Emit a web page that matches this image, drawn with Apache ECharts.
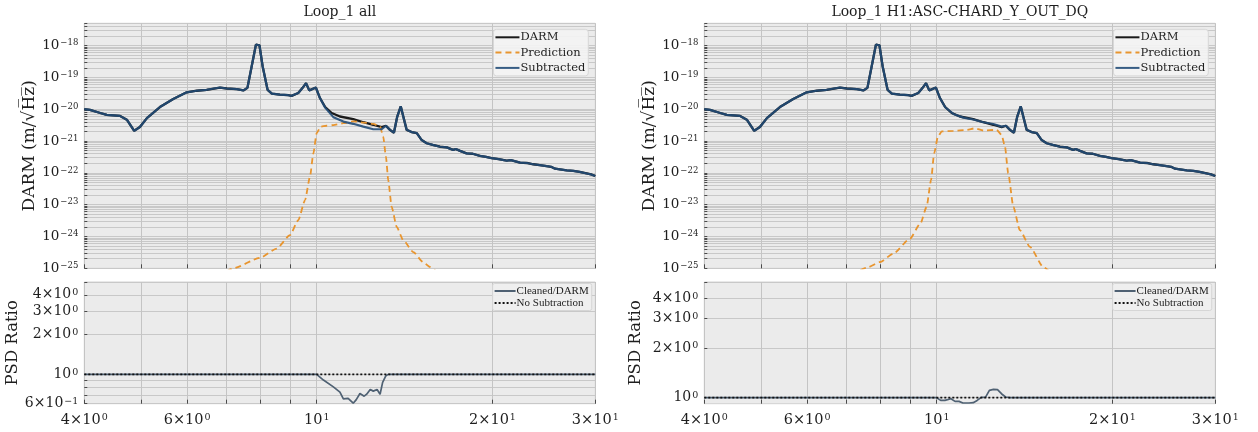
<!DOCTYPE html>
<html>
<head>
<meta charset="utf-8">
<script src="https://cdn.jsdelivr.net/npm/echarts@6/dist/echarts.min.js"></script>
<style>
  html, body { margin: 0; padding: 0; background: #ffffff; }
  #chart { width: 1258px; height: 432px; }
</style>
</head>
<body>
<div id="chart"></div>
<script>
// ---- DARM amplitude spectral density (m/sqrt(Hz)) ----
const darmFreq = [4.00, 4.09, 4.26, 4.37, 4.60, 4.73, 4.87, 4.98, 5.12, 5.39, 5.68, 5.99, 6.23, 6.48,
  6.83, 7.02, 7.30, 7.49, 7.61, 7.74, 7.87, 7.98, 8.08, 8.24, 8.38, 8.65, 8.94, 9.06, 9.30, 9.46,
  9.59, 9.71, 9.97, 10.13, 10.34, 10.61, 10.96, 11.55, 12.02, 12.50, 12.92, 13.14, 13.35, 13.56,
  13.74, 13.93, 14.07, 14.26, 14.54, 14.84, 15.13, 15.43, 15.80, 16.26, 16.70, 17.13, 17.30, 17.60,
  18.06, 18.50, 19.04, 19.50, 19.94, 20.50, 21.16, 21.50, 22.30, 22.90, 23.49, 24.10, 24.76, 25.20,
  25.60, 26.10, 26.80, 27.51, 28.20, 29.00, 29.50, 30.00];
const darmAsd = [1.00e-20, 9.55e-21, 7.59e-21, 6.61e-21, 6.17e-21, 4.68e-21, 2.09e-21, 2.75e-21, 5.25e-21,
  1.17e-20, 2.09e-20, 3.39e-20, 3.80e-20, 4.07e-20, 4.79e-20, 4.47e-20, 4.27e-20, 3.89e-20, 4.68e-20,
  2.24e-19, 1.07e-18, 1.02e-18, 2.24e-19, 4.07e-20, 3.09e-20, 2.88e-20, 2.75e-20, 2.63e-20, 3.24e-20,
  4.68e-20, 6.61e-20, 3.89e-20, 4.79e-20, 2.24e-20, 1.17e-20, 7.59e-21, 5.89e-21, 4.90e-21, 3.89e-21,
  3.24e-21, 2.75e-21, 3.02e-21, 2.24e-21, 1.82e-21, 5.89e-21, 1.23e-20, 5.89e-21, 2.24e-21, 1.91e-21,
  1.78e-21, 1.07e-21, 8.51e-22, 7.59e-22, 6.61e-22, 6.31e-22, 5.25e-22, 5.62e-22, 4.90e-22, 4.07e-22,
  3.98e-22, 3.39e-22, 3.16e-22, 2.88e-22, 2.69e-22, 2.40e-22, 2.51e-22, 2.09e-22, 2.04e-22, 1.86e-22,
  1.74e-22, 1.62e-22, 1.55e-22, 1.35e-22, 1.29e-22, 1.20e-22, 1.15e-22, 1.07e-22, 9.55e-23, 8.91e-23,
  7.94e-23];

// ---- Subtracted spectrum inside the witness band (outside it equals DARM) ----
const subBandFreq = [10.34, 10.68, 11.11, 11.55, 12.02, 12.50, 12.92];
const subBandAll = [1.12e-20, 5.62e-21, 4.07e-21, 3.47e-21, 2.82e-21, 2.34e-21, 2.34e-21];
const subBandChard = [1.15e-20, 7.08e-21, 5.42e-21, 4.73e-21, 3.89e-21, 3.43e-21, 2.84e-21];

// ---- Predicted noise ----
const predFreqAll = [7.00, 7.20, 8.00, 8.54, 9.00, 9.30, 9.55, 9.74, 9.87, 10.00, 10.16, 10.40, 10.68,
  11.11, 11.55, 12.02, 12.50, 12.84, 13.00, 13.14, 13.26, 13.44, 13.71, 14.07, 14.64, 15.22, 15.63, 16.00];
const predAll = [7.94e-26, 1.00e-25, 2.14e-25, 4.17e-25, 1.10e-24, 3.24e-24, 1.38e-23, 7.59e-23, 4.07e-22,
  1.78e-21, 2.82e-21, 3.02e-21, 3.16e-21, 3.63e-21, 4.17e-21, 3.80e-21, 3.47e-21, 2.82e-21, 1.38e-21,
  3.24e-22, 5.89e-23, 8.51e-24, 2.00e-24, 7.59e-25, 3.24e-25, 1.55e-25, 1.10e-25, 8.32e-26];
const predFreqChard = [7.40, 7.64, 8.00, 8.43, 9.00, 9.38, 9.61, 9.78, 9.90, 10.05, 10.20, 10.68, 11.26,
  11.63, 12.02, 12.67, 12.92, 13.09, 13.26, 13.53, 13.88, 14.45, 15.22, 15.60];
const predChard = [8.71e-26, 1.10e-25, 1.58e-25, 2.88e-25, 8.51e-25, 2.57e-24, 8.51e-24, 5.89e-23, 4.07e-22,
  1.38e-21, 2.00e-21, 2.09e-21, 2.24e-21, 2.51e-21, 2.14e-21, 2.24e-21, 1.55e-21, 6.61e-22, 9.55e-23,
  8.51e-24, 1.58e-24, 4.68e-25, 1.10e-25, 7.94e-26];

// ---- PSD ratio cleaned / DARM ----
const ratioFreqAll = [4, 10.00, 10.27, 10.68, 10.96, 11.11, 11.32, 11.55, 11.69, 11.86, 12.06, 12.18, 12.35,
  12.50, 12.69, 12.84, 12.97, 13.14, 13.26, 30];
const ratioAll = [1, 1, 0.906, 0.805, 0.734, 0.652, 0.659, 0.605, 0.644, 0.716, 0.684, 0.708, 0.768,
  0.747, 0.768, 0.708, 0.869, 0.977, 1, 1];
const ratioFreqChard = [4, 10.00, 10.16, 10.33, 10.58, 10.75, 10.92, 11.09, 11.36, 11.55, 11.73, 11.92,
  12.12, 12.31, 12.51, 12.71, 12.91, 13.12, 13.33, 30];
const ratioChard = [1, 1, 0.963, 0.963, 0.986, 0.95, 0.95, 0.929, 0.929, 0.933, 0.963, 1.005, 1.005,
  1.107, 1.123, 1.118, 1.057, 1.01, 1, 1];
const noSubFreq = [4, 30];
const noSubRatio = [1, 1];

// ---- Axis ticks ----
const freqGridTicks = [4, 5, 6, 7, 8, 9, 10, 20, 30];
const freqLabelTicks = [4, 6, 10, 20, 30];
const asdLabelExps = [-25, -24, -23, -22, -21, -20, -19, -18];
const ratioGridAll = [0.6, 0.7, 0.8, 0.9, 1, 2, 3, 4, 5];
const ratioLabelsAll = [0.6, 1, 2, 3, 4];
const ratioGridChard = [1, 2, 3, 4, 5];
const ratioLabelsChard = [1, 2, 3, 4];
const panelTitles = ['Loop_1 all', 'Loop_1 H1:ASC-CHARD_Y_OUT_DQ'];

// decade gridlines 1..9 x 10^e up to the axis top
const asdGridTicks = [];
asdLabelExps.forEach(e => {
  for (let m = 1; m <= 9; m++) {
    const v = Number(m + 'e' + e);
    if (v <= 5e-18) asdGridTicks.push(v);
  }
});
const asdLabelTicks = asdLabelExps.map(e => Number('1e' + e));

const FONT = '"DejaVu Serif", serif';
const INK = '#1e1e1e';

function pairs(xs, ys) { return xs.map((x, i) => [x, ys[i]]); }

function withBand(baseF, baseV, bandF, bandV) {
  const lo = bandF[0], hi = bandF[bandF.length - 1];
  const pts = pairs(baseF, baseV).filter(p => p[0] < lo - 0.15 || p[0] > hi + 0.15);
  return pts.concat(pairs(bandF, bandV)).sort((a, b) => a[0] - b[0]);
}

function sciLabel(v) {
  const e = Math.floor(Math.log10(v) + 1e-9);
  const m = Math.round(v / Math.pow(10, e));
  const exp = e < 0 ? '\u2212' + (-e) : String(e);
  return (m === 1 ? '' : m + '\u00d7') + '10{sup|' + exp + '}';
}

function richSup(size) {
  return { sup: { fontSize: size, fontFamily: FONT, color: INK, verticalAlign: 'top', padding: [0, 0, 0, 1] } };
}

const plotLeft = [84.3, 704.3];
const plotWidth = 511;
const topPanel = { top: 23.3, height: 245 };
const bottomPanel = { top: 282, height: 121.7 };

const grids = [];
const xAxes = [];
const yAxes = [];
const series = [];
const legends = [];

function addGrid(left, panel) {
  grids.push({
    left: left, top: panel.top, width: plotWidth, height: panel.height,
    show: true, backgroundColor: '#ebebeb', borderColor: '#d2d2d2', borderWidth: 1,
    containLabel: false, outerBoundsMode: 'none'
  });
  return grids.length - 1;
}

function addXAxis(gi, withLabels) {
  xAxes.push({
    type: 'log', logBase: 10, gridIndex: gi, min: 4, max: 30,
    axisLine: { show: false },
    axisTick: { show: true, inside: true, length: 4, customValues: freqGridTicks,
      lineStyle: { color: '#4a4a4a', width: 1 } },
    splitLine: { show: true, lineStyle: { color: '#c4c4c4', width: 1 } },
    minorTick: { show: false }, minorSplitLine: { show: false },
    axisLabel: {
      show: withLabels, customValues: freqLabelTicks, formatter: sciLabel, margin: 9,
      fontFamily: FONT, fontSize: 14.5, color: INK, rich: richSup(9.5)
    }
  });
}

function addYAxis(gi, cfg) {
  yAxes.push({
    type: 'log', logBase: 10, gridIndex: gi, min: cfg.min, max: cfg.max,
    name: cfg.name, nameLocation: 'middle', nameGap: cfg.nameGap, nameRotate: 90,
    nameTextStyle: { fontFamily: FONT, fontSize: cfg.nameSize, color: INK },
    axisLine: { show: false },
    axisTick: { show: true, inside: true, length: 3, customValues: cfg.grid,
      lineStyle: { color: '#4a4a4a', width: 1 } },
    splitLine: { show: true, lineStyle: { color: '#c8c8c8', width: 1 } },
    minorTick: { show: false }, minorSplitLine: { show: false },
    axisLabel: {
      show: true, customValues: cfg.labels, formatter: sciLabel, margin: 6,
      fontFamily: FONT, fontSize: cfg.labelSize, color: INK, rich: richSup(cfg.supSize)
    }
  });
}

function lineSeries(name, gi, data, color, width, dash, extra) {
  return Object.assign({
    name: name, type: 'line', xAxisIndex: gi, yAxisIndex: gi, data: data,
    symbol: 'none', showSymbol: false, clip: true, silent: true,
    lineStyle: { color: color, width: width, type: dash || 'solid' },
    itemStyle: { color: color }
  }, extra || {});
}

const columns = [
  { pred: pairs(predFreqAll, predAll), band: subBandAll,
    ratio: pairs(ratioFreqAll, ratioAll), rmin: 0.6, rgrid: ratioGridAll, rlabels: ratioLabelsAll },
  { pred: pairs(predFreqChard, predChard), band: subBandChard,
    ratio: pairs(ratioFreqChard, ratioChard), rmin: 0.92, rgrid: ratioGridChard, rlabels: ratioLabelsChard }
];

columns.forEach((col, c) => {
  const left = plotLeft[c];
  const gTop = addGrid(left, topPanel);
  addXAxis(gTop, false);
  addYAxis(gTop, { min: 1e-25, max: 5e-18, grid: asdGridTicks, labels: asdLabelTicks,
    name: 'DARM (m/\u221aH\u0305z\u0305)', nameGap: 45, nameSize: 17, labelSize: 13.5, supSize: 8.5 });
  series.push(lineSeries('DARM', gTop, pairs(darmFreq, darmAsd), '#1a1a1a', 2.3));
  series.push(lineSeries('Prediction', gTop, col.pred, '#e8952f', 1.8, [6, 4],
    { smooth: 0.2, smoothMonotone: 'x' }));
  series.push(lineSeries('Subtracted', gTop, withBand(darmFreq, darmAsd, subBandFreq, col.band),
    '#24507e', 2.2, null, { lineStyle: { color: '#224c78', width: 2.2, opacity: 0.9 } }));

  const gBot = addGrid(left, bottomPanel);
  addXAxis(gBot, true);
  addYAxis(gBot, { min: col.rmin, max: 5, grid: col.rgrid, labels: col.rlabels,
    name: 'PSD Ratio', nameGap: 60, nameSize: 16.5, labelSize: 14, supSize: 9.5 });
  series.push(lineSeries('Cleaned/DARM', gBot, col.ratio, '#4f6173', 1.7));
  series.push(lineSeries('No Subtraction', gBot, pairs(noSubFreq, noSubRatio), '#111111', 1.8, [2, 2]));

  const legendRight = 1258 - (left + plotWidth);
  legends.push({
    data: ['DARM', 'Prediction', 'Subtracted'], orient: 'vertical',
    right: legendRight + 7, top: 29.3, itemWidth: 24, itemHeight: 11, itemGap: 3.3,
    padding: [2, 3, 2, 1], backgroundColor: 'rgba(244,244,244,0.9)', borderColor: '#d6d6d6',
    borderWidth: 1, borderRadius: 3, selectedMode: false,
    itemStyle: { opacity: 0, borderWidth: 0 },
    textStyle: { fontFamily: FONT, fontSize: 11.5, color: INK, padding: [0, 0, 0, -4] }
  });
  legends.push({
    data: ['Cleaned/DARM', 'No Subtraction'], orient: 'vertical',
    right: legendRight + 3.6, top: 283.5, itemWidth: 21, itemHeight: 10, itemGap: 1,
    padding: [2, 3, 2, 1], backgroundColor: 'rgba(240,240,240,0.9)', borderColor: '#d6d6d6',
    borderWidth: 1, borderRadius: 2, selectedMode: false,
    itemStyle: { opacity: 0, borderWidth: 0 },
    textStyle: { fontFamily: '"Liberation Serif", serif', fontSize: 11, color: INK, padding: [0, 0, 0, -4] }
  });
});

const titles = panelTitles.map((t, c) => ({
  type: 'text', x: plotLeft[c] + plotWidth / 2, y: 12.5, silent: true,
  style: { text: t, font: '14px ' + FONT, fill: INK, align: 'center', verticalAlign: 'middle' }
}));

const chart = echarts.init(document.getElementById('chart'), null, { renderer: 'canvas' });
chart.setOption({
  animation: false,
  backgroundColor: '#ffffff',
  grid: grids,
  xAxis: xAxes,
  yAxis: yAxes,
  legend: legends,
  series: series,
  graphic: titles
});
</script>
</body>
</html>
